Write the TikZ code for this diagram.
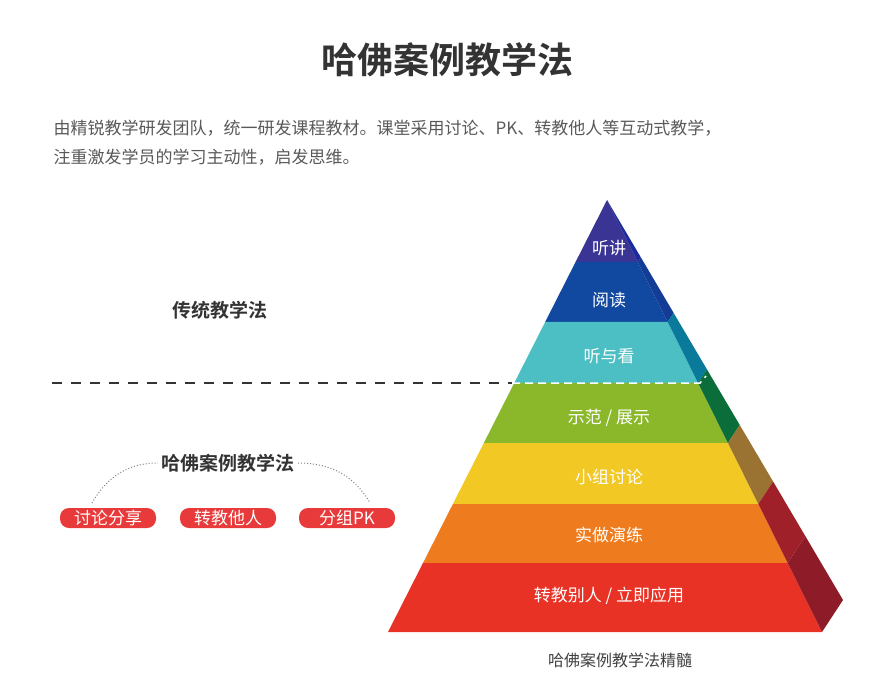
\documentclass[tikz,border=0pt]{standalone}
\usepackage{fontspec}
\setmainfont{Noto Sans CJK SC}
\newfontfamily\cjkb{Noto Sans CJK SC Bold}
\begin{document}
\begin{tikzpicture}[x=1pt,y=-1pt,
  lay/.style={font=\fontsize{17}{17}\selectfont,text=white},
  pill/.style={fill=red!70!orange!90!black,fill=pillred,text=white,rounded corners=9pt,minimum width=96pt,minimum height=20pt,inner sep=0pt,font=\fontsize{17}{17}\selectfont},
  graylbl/.style={text=gray!40!black,font=\cjkb\fontsize{19}{19}\selectfont}]
\definecolor{pillred}{HTML}{E83A3A}
\useasboundingbox (0,0) rectangle (890,679);
\node (title) at (447,60) {\cjkb\fontsize{36}{36}\selectfont\color{black!80}哈佛案例教学法};
\node[anchor=west,text=black!65,font=\fontsize{17}{17}\selectfont] (p1) at (50,128) {由精锐教学研发团队，统一研发课程教材。课堂采用讨论、PK、转教他人等互动式教学，};
\node[anchor=west,text=black!65,font=\fontsize{17}{17}\selectfont] (p2) at (50,157) {注重激发学员的学习主动性，启发思维。};
% pyramid
\def\ts{0,0.1435,0.2824,0.4236,0.5625,0.7037,0.8403,1}
\def\fcols{{"3A3595","1148A0","4BBFC3","8AB82A","F2C824","EE7C1E","E83226"}}
\foreach \a/\b/\fc/\sc [count=\i] in {0/0.1435/3A3595/1C2A9C,0.1435/0.2824/1148A0/133C96,0.2824/0.4236/4BBFC3/0A7A9A,0.4236/0.5625/8AB82A/0B6E3A,0.5625/0.7037/F2C824/9A7332,0.7037/0.8403/EE7C1E/A0202A,0.8403/1/E83226/8E1C28}{
  \definecolor{fc\i}{HTML}{\fc}\definecolor{sc\i}{HTML}{\sc}
  \fill[fc\i] (607-219*\a,200+432*\a) -- (607+215*\a,200+432*\a) -- (607+215*\b,200+432*\b) -- (607-219*\b,200+432*\b) -- cycle;
  \fill[sc\i] (607+215*\a,200+432*\a) -- (607+236*\a,200+400*\a) -- (607+236*\b,200+400*\b) -- (607+215*\b,200+432*\b) -- cycle;
}
\node[lay] (l1) at (609,248) {听讲};
\node[lay] (l2) at (609,300) {阅读};
\node[lay] (l3) at (609,356) {听与看};
\node[lay] (l4) at (609,418) {示范 / 展示};
\node[lay] (l5) at (609,477) {小组讨论};
\node[lay] (l6) at (609,535) {实做演练};
\node[lay] (l7) at (609,596) {转教别人 / 立即应用};
\coordinate (dl) at (52,383);
\coordinate (dm) at (512,383);
\coordinate (dr) at (706,376);
\draw[black!80,line width=2pt,dash pattern=on 10pt off 9pt] (dl) -- (dm);
\draw[white,line width=1.5pt,dash pattern=on 8pt off 5pt] (dm) -- (700,383) -- (dr);
\node[graylbl] (trad) at (220,310) {传统教学法};
\node[graylbl] (hf) at (228,463) {哈佛案例教学法};
\node[pill] (b1) at (108,518) {讨论分享};
\node[pill] (b2) at (228,518) {转教他人};
\node[pill] (b3) at (347,518) {分组PK};
\draw[gray,line width=1pt,dotted] (92,503) to[out=60,in=180] (hf.west);
\draw[gray,line width=1pt,dotted] (hf.east) to[out=0,in=120] (370,503);
\node[text=black!75,font=\fontsize{16}{16}\selectfont] (cap) at (620,660) {哈佛案例教学法精髓};
\end{tikzpicture}
\end{document}
